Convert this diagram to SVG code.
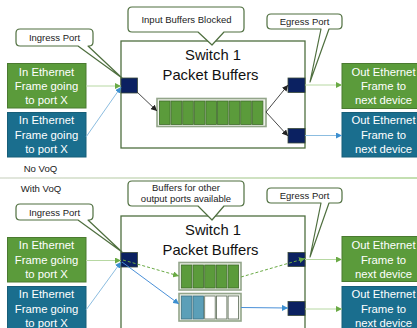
<svg xmlns="http://www.w3.org/2000/svg" width="417" height="328" viewBox="0 0 417 328">
  <defs>
    <style>
      text { font-family: "Liberation Sans", Arial, sans-serif; }
      .box-green { fill: #5b9b3b; stroke: #4a7a30; stroke-width: 1; }
      .box-blue { fill: #1a6e8e; stroke: #175e78; stroke-width: 1; }
      .box-text { fill: #ffffff; font-size: 11.3px; text-anchor: middle; }
      .switch { fill: #ffffff; stroke: #4f6f3f; stroke-width: 1.3; }
      .switch-text { fill: #111111; font-size: 14.8px; text-anchor: middle; }
      .port { fill: #0b2161; stroke: #3a4a3a; stroke-width: 0.8; }
      .callout { fill: #ffffff; stroke: #4f6f3f; stroke-width: 1.2; stroke-linejoin: round; }
      .callout-text { fill: #222222; font-size: 9.5px; text-anchor: middle; }
      .label { fill: #222222; font-size: 9.6px; text-anchor: middle; }
      .buf-frame { fill: #eef2ea; stroke: #93a58a; stroke-width: 1.6; }
      .cell-green { fill: #5b9b3b; stroke: #3f6a2a; stroke-width: 0.8; }
      .cell-blue { fill: #5b9fb8; stroke: #3d6f80; stroke-width: 0.8; }
      .cell-empty { fill: #ffffff; stroke: #5a6a55; stroke-width: 0.8; }
      .c-lgreen { stroke: #b7d8a2; stroke-width: 1; fill: none; marker-end: url(#head-green); }
      .c-lblue { stroke: #8cbde0; stroke-width: 1; fill: none; marker-end: url(#head-blue); }
      .c-black { stroke: #333333; stroke-width: 0.9; fill: none; marker-end: url(#head-black); }
      .c-dgreen { stroke: #6aaa45; stroke-width: 1; stroke-dasharray: 3 2; fill: none; marker-end: url(#head-green); }
      .c-blue { stroke: #4a90d8; stroke-width: 1; fill: none; marker-end: url(#head-blue); }
    </style>
    <marker id="head-green" viewBox="0 0 10 10" refX="10" refY="5" markerWidth="6" markerHeight="6" markerUnits="userSpaceOnUse" orient="auto">
      <path d="M0,0 L10,5 L0,10 Z" fill="#6aaa45"/>
    </marker>
    <marker id="head-blue" viewBox="0 0 10 10" refX="10" refY="5" markerWidth="6" markerHeight="6" markerUnits="userSpaceOnUse" orient="auto">
      <path d="M0,0 L10,5 L0,10 Z" fill="#3c8fd0"/>
    </marker>
    <marker id="head-black" viewBox="0 0 10 10" refX="10" refY="5" markerWidth="6" markerHeight="6" markerUnits="userSpaceOnUse" orient="auto">
      <path d="M0,0 L10,5 L0,10 Z" fill="#222222"/>
    </marker>
    <linearGradient id="sep" x1="0" y1="0" x2="1" y2="0">
      <stop offset="0" stop-color="#d6dccf"/>
      <stop offset="1" stop-color="#a9d18e"/>
    </linearGradient>
  </defs>

  <!-- ===== Section 1: no VoQ ===== -->
  <g id="switch-top">
    <rect class="switch" x="121" y="41" width="184" height="107"/>
    <text class="switch-text" x="213" y="59.5">Switch 1</text>
    <text class="switch-text" x="210.5" y="80">Packet Buffers</text>
  </g>

  <g id="buffer-top">
    <rect class="buf-frame" x="157" y="98.5" width="109" height="28"/>
    <rect class="cell-green" x="159.5" y="101" width="10.6" height="23.5"/>
    <rect class="cell-green" x="171.1" y="101" width="10.6" height="23.5"/>
    <rect class="cell-green" x="182.7" y="101" width="10.6" height="23.5"/>
    <rect class="cell-green" x="194.3" y="101" width="10.6" height="23.5"/>
    <rect class="cell-green" x="205.9" y="101" width="10.6" height="23.5"/>
    <rect class="cell-green" x="217.5" y="101" width="10.6" height="23.5"/>
    <rect class="cell-green" x="229.1" y="101" width="10.6" height="23.5"/>
    <rect class="cell-green" x="240.7" y="101" width="10.6" height="23.5"/>
    <rect class="cell-green" x="252.3" y="101" width="10.6" height="23.5"/>
  </g>

  <g id="in-green-top">
    <rect class="box-green" x="7.5" y="63.5" width="78.5" height="44.5"/>
    <text class="box-text" x="46.5" y="75.5">In Ethernet</text>
    <text class="box-text" x="46.5" y="90">Frame going</text>
    <text class="box-text" x="46.5" y="104">to port X</text>
  </g>
  <g id="in-blue-top">
    <rect class="box-blue" x="7.5" y="112.5" width="78.5" height="44.5"/>
    <text class="box-text" x="46.5" y="124">In Ethernet</text>
    <text class="box-text" x="46.5" y="138.5">Frame going</text>
    <text class="box-text" x="46.5" y="153">to port X</text>
  </g>
  <g id="out-green-top">
    <rect class="box-green" x="342" y="63.5" width="84" height="45"/>
    <text class="box-text" x="383.5" y="75.5">Out Ethernet</text>
    <text class="box-text" x="383.5" y="90">Frame to</text>
    <text class="box-text" x="383.5" y="104">next device</text>
  </g>
  <g id="out-blue-top">
    <rect class="box-blue" x="342" y="112.5" width="84" height="44.5"/>
    <text class="box-text" x="383.5" y="124">Out Ethernet</text>
    <text class="box-text" x="383.5" y="138.5">Frame to</text>
    <text class="box-text" x="383.5" y="153">next device</text>
  </g>

  <g id="ingress-port-top"><rect class="port" x="121" y="78" width="16.5" height="15"/></g>
  <g id="egress-port-a-top"><rect class="port" x="288" y="78" width="17" height="14.5"/></g>
  <g id="egress-port-b-top"><rect class="port" x="288" y="128.5" width="17" height="14.5"/></g>

  <!-- ===== Section 2: with VoQ ===== -->
  <g id="switch-bottom">
    <rect class="switch" x="121" y="216" width="184" height="130"/>
    <text class="switch-text" x="213" y="235">Switch 1</text>
    <text class="switch-text" x="210.5" y="254.5">Packet Buffers</text>
  </g>

  <g id="buffer-green-bottom">
    <rect class="buf-frame" x="179" y="262.5" width="62" height="27.5"/>
    <rect class="cell-green" x="181.3" y="265" width="10.5" height="23"/>
    <rect class="cell-green" x="193" y="265" width="10.5" height="23"/>
    <rect class="cell-green" x="204.7" y="265" width="10.5" height="23"/>
    <rect class="cell-green" x="216.4" y="265" width="10.5" height="23"/>
    <rect class="cell-green" x="228.1" y="265" width="10.5" height="23"/>
  </g>
  <g id="buffer-blue-bottom">
    <rect class="buf-frame" x="179" y="293.5" width="62" height="27.5"/>
    <rect class="cell-blue" x="181.3" y="296" width="10.5" height="23"/>
    <rect class="cell-blue" x="193" y="296" width="10.5" height="23"/>
    <rect class="cell-empty" x="204.7" y="296" width="10.5" height="23"/>
    <rect class="cell-empty" x="216.4" y="296" width="10.5" height="23"/>
    <rect class="cell-empty" x="228.1" y="296" width="10.5" height="23"/>
  </g>

  <g id="in-green-bottom">
    <rect class="box-green" x="7.5" y="237.5" width="78.5" height="44.5"/>
    <text class="box-text" x="46.5" y="249">In Ethernet</text>
    <text class="box-text" x="46.5" y="264">Frame going</text>
    <text class="box-text" x="46.5" y="278">to port X</text>
  </g>
  <g id="in-blue-bottom">
    <rect class="box-blue" x="7.5" y="286.5" width="78.5" height="50"/>
    <text class="box-text" x="46.5" y="298">In Ethernet</text>
    <text class="box-text" x="46.5" y="312.5">Frame going</text>
    <text class="box-text" x="46.5" y="327">to port X</text>
  </g>
  <g id="out-green-bottom">
    <rect class="box-green" x="342" y="236.5" width="84" height="45"/>
    <text class="box-text" x="383.5" y="249">Out Ethernet</text>
    <text class="box-text" x="383.5" y="264">Frame to</text>
    <text class="box-text" x="383.5" y="278">next device</text>
  </g>
  <g id="out-blue-bottom">
    <rect class="box-blue" x="342" y="286.5" width="84" height="50"/>
    <text class="box-text" x="383.5" y="298">Out Ethernet</text>
    <text class="box-text" x="383.5" y="312.5">Frame to</text>
    <text class="box-text" x="383.5" y="327">next device</text>
  </g>

  <g id="ingress-port-bottom"><rect class="port" x="121" y="252.5" width="16.5" height="14.5"/></g>
  <g id="egress-port-a-bottom"><rect class="port" x="288" y="252.5" width="17" height="14"/></g>
  <g id="egress-port-b-bottom"><rect class="port" x="288" y="301.5" width="17" height="14"/></g>

  <!-- Section labels and divider -->
  <g id="label-no-voq"><text class="label" x="40.5" y="172">No VoQ</text></g>
  <g id="divider"><rect x="0" y="177.3" width="417" height="1.4" fill="url(#sep)"/></g>
  <g id="label-with-voq"><text class="label" x="41" y="192">With VoQ</text></g>

  <!-- Connectors -->
  <g id="connectors">
    <!-- no VoQ -->
    <line class="c-lgreen" x1="86" y1="86" x2="121" y2="86"/>
    <line class="c-lblue" x1="86" y1="137" x2="121" y2="87"/>
    <line class="c-black" x1="137" y1="92" x2="157" y2="111"/>
    <line class="c-black" x1="266" y1="112" x2="288" y2="85"/>
    <line class="c-black" x1="266" y1="112" x2="288" y2="136"/>
    <line class="c-lgreen" x1="305" y1="85" x2="342" y2="85"/>
    <line class="c-lblue" x1="305" y1="135.5" x2="342" y2="135.5"/>
    <!-- with VoQ -->
    <line class="c-lgreen" x1="86" y1="260.5" x2="121" y2="260.5"/>
    <line class="c-lblue" x1="86" y1="310" x2="121" y2="262"/>
    <line class="c-dgreen" x1="123" y1="260" x2="179" y2="276"/>
    <line class="c-blue" x1="122" y1="262" x2="179" y2="304"/>
    <line class="c-dgreen" x1="241" y1="277" x2="305" y2="258.5"/>
    <line class="c-blue" x1="241" y1="307.5" x2="288" y2="308"/>
    <line class="c-lgreen" x1="305" y1="259.5" x2="342" y2="259.5"/>
    <line class="c-lgreen" x1="305" y1="309" x2="342" y2="309"/>
  </g>

  <!-- Callouts -->
  <g id="callout-ingress-top">
    <path class="callout" d="M20,29 H89 Q93,29 93,33 V42 Q93,46 89,46 H88 L122,78 L78,46 H20 Q16,46 16,42 V33 Q16,29 20,29 Z"/>
    <text class="callout-text" x="54.5" y="41">Ingress Port</text>
  </g>
  <g id="callout-blocked">
    <path class="callout" d="M132,7 H240 Q244,7 244,11 V28 Q244,32 240,32 H224 L212,45 L198,32 H132 Q128,32 128,28 V11 Q128,7 132,7 Z"/>
    <text class="callout-text" x="186.5" y="23">Input Buffers Blocked</text>
  </g>
  <g id="callout-egress-top">
    <path class="callout" d="M271,14 H338 Q342,14 342,18 V25 Q342,29 338,29 H329 L310,82 L321,29 H271 Q267,29 267,25 V18 Q267,14 271,14 Z"/>
    <text class="callout-text" x="304.5" y="24.5">Egress Port</text>
  </g>

  <g id="callout-ingress-bottom">
    <path class="callout" d="M20,204 H89 Q93,204 93,208 V216 Q93,220 89,220 H88 L122,252 L78,220 H20 Q16,220 16,216 V208 Q16,204 20,204 Z"/>
    <text class="callout-text" x="54.5" y="215.5">Ingress Port</text>
  </g>
  <g id="callout-available">
    <path class="callout" d="M132,181 H240 Q244,181 244,185 V202 Q244,206 240,206 H224 L212,220 L198,206 H132 Q128,206 128,202 V185 Q128,181 132,181 Z"/>
    <text class="callout-text" x="186" y="191">Buffers for other</text>
    <text class="callout-text" x="186" y="202">output ports available</text>
  </g>
  <g id="callout-egress-bottom">
    <path class="callout" d="M271,188 H338 Q342,188 342,192 V199 Q342,203 338,203 H329 L310,257 L321,203 H271 Q267,203 267,199 V192 Q267,188 271,188 Z"/>
    <text class="callout-text" x="304.5" y="198.5">Egress Port</text>
  </g>
</svg>
